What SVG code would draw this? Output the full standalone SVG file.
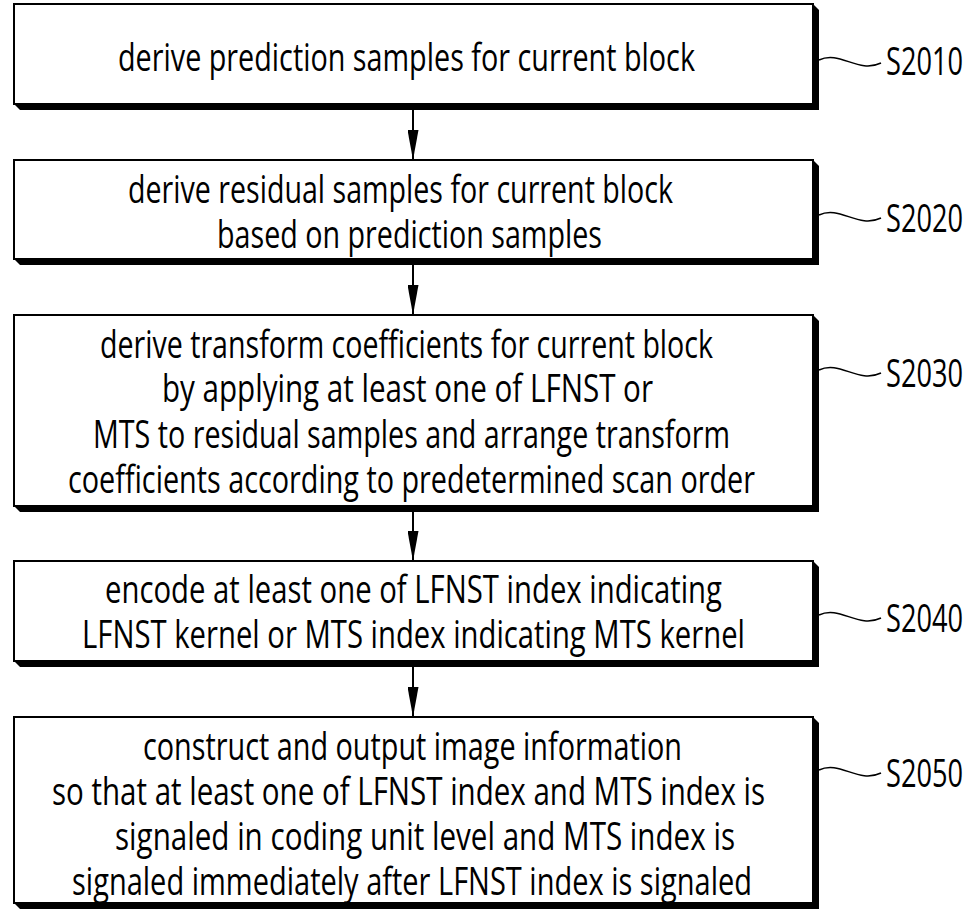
<svg xmlns="http://www.w3.org/2000/svg" width="980" height="910" viewBox="0 0 980 910">
<style>
  .box{fill:#fff;stroke:#000;stroke-width:2}
  .shadow{fill:#000;stroke:none}
  .t{font-family:"Open Sans","Noto Sans","DejaVu Sans",sans-serif;font-size:39px;font-weight:400;fill:#000}
  .lbl{font-family:"Open Sans","Noto Sans","DejaVu Sans",sans-serif;font-size:38px;font-weight:400;fill:#000}
  .conn{stroke:#000;stroke-width:2;fill:none}
  .sq{stroke:#000;stroke-width:1.5;fill:none}
</style>
<defs>
  <marker id="ah" markerUnits="userSpaceOnUse" viewBox="0 0 30 11" refX="30" refY="5.5" markerWidth="30" markerHeight="11" orient="auto">
    <path d="M0,0 L30,5.5 L0,11 z" fill="#000"/>
  </marker>
</defs>
<rect width="980" height="910" fill="#fff"/>

<g id="S2010">
  <polygon class="shadow" points="813,4 819,10 819,110 20,110 14,104"/>
  <rect class="box" x="14" y="4" width="799" height="100"/>
  <text class="t" x="118" y="71" textLength="577" lengthAdjust="spacingAndGlyphs">derive prediction samples for current block</text>
  <path class="sq" d="M819,60 C840,50 858,74 881,63"/>
  <text class="lbl" x="886" y="75" textLength="77" lengthAdjust="spacingAndGlyphs">S2010</text>
</g>

<g id="S2020">
  <polygon class="shadow" points="813,160 819,166 819,265 20,265 14,259"/>
  <rect class="box" x="14" y="160" width="799" height="99"/>
  <text class="t" x="128" y="203" textLength="545" lengthAdjust="spacingAndGlyphs">derive residual samples for current block</text>
  <text class="t" x="217" y="248" textLength="385" lengthAdjust="spacingAndGlyphs">based on prediction samples</text>
  <path class="sq" d="M819,215 C840,205 858,229 881,218"/>
  <text class="lbl" x="886" y="232" textLength="77" lengthAdjust="spacingAndGlyphs">S2020</text>
</g>

<g id="S2030">
  <polygon class="shadow" points="813,315 819,321 819,512 20,512 14,506"/>
  <rect class="box" x="14" y="315" width="799" height="191"/>
  <text class="t" x="100" y="358" textLength="613" lengthAdjust="spacingAndGlyphs">derive transform coefficients for current block</text>
  <text class="t" x="162" y="402" textLength="491" lengthAdjust="spacingAndGlyphs">by applying at least one of LFNST or</text>
  <text class="t" x="93" y="448" textLength="637" lengthAdjust="spacingAndGlyphs">MTS to residual samples and arrange transform</text>
  <text class="t" x="68" y="493" textLength="687" lengthAdjust="spacingAndGlyphs">coefficients according to predetermined scan order</text>
  <path class="sq" d="M819,370 C840,360 858,384 881,373"/>
  <text class="lbl" x="886" y="387" textLength="77" lengthAdjust="spacingAndGlyphs">S2030</text>
</g>

<g id="S2040">
  <polygon class="shadow" points="813,561 819,567 819,667 20,667 14,661"/>
  <rect class="box" x="14" y="561" width="799" height="100"/>
  <text class="t" x="105" y="603" textLength="617" lengthAdjust="spacingAndGlyphs">encode at least one of LFNST index indicating</text>
  <text class="t" x="82" y="648" textLength="663" lengthAdjust="spacingAndGlyphs">LFNST kernel or MTS index indicating MTS kernel</text>
  <path class="sq" d="M819,615 C840,605 858,629 881,618"/>
  <text class="lbl" x="886" y="632" textLength="77" lengthAdjust="spacingAndGlyphs">S2040</text>
</g>

<g id="S2050">
  <polygon class="shadow" points="813,717 819,723 819,909 20,909 14,903"/>
  <rect class="box" x="14" y="717" width="799" height="186"/>
  <text class="t" x="143" y="760" textLength="539" lengthAdjust="spacingAndGlyphs">construct and output image information</text>
  <text class="t" x="52" y="805" textLength="713" lengthAdjust="spacingAndGlyphs">so that at least one of LFNST index and MTS index is</text>
  <text class="t" x="115" y="850" textLength="620" lengthAdjust="spacingAndGlyphs">signaled in coding unit level and MTS index is</text>
  <text class="t" x="72" y="895" textLength="680" lengthAdjust="spacingAndGlyphs">signaled immediately after LFNST index is signaled</text>
  <path class="sq" d="M819,770 C840,760 858,784 881,773"/>
  <text class="lbl" x="886" y="787" textLength="77" lengthAdjust="spacingAndGlyphs">S2050</text>
</g>

<g id="connectors">
  <line class="conn" x1="413" y1="110" x2="413" y2="160" marker-end="url(#ah)"/>
  <line class="conn" x1="413" y1="265" x2="413" y2="315" marker-end="url(#ah)"/>
  <line class="conn" x1="413" y1="512" x2="413" y2="561" marker-end="url(#ah)"/>
  <line class="conn" x1="413" y1="667" x2="413" y2="717" marker-end="url(#ah)"/>
</g>
</svg>
